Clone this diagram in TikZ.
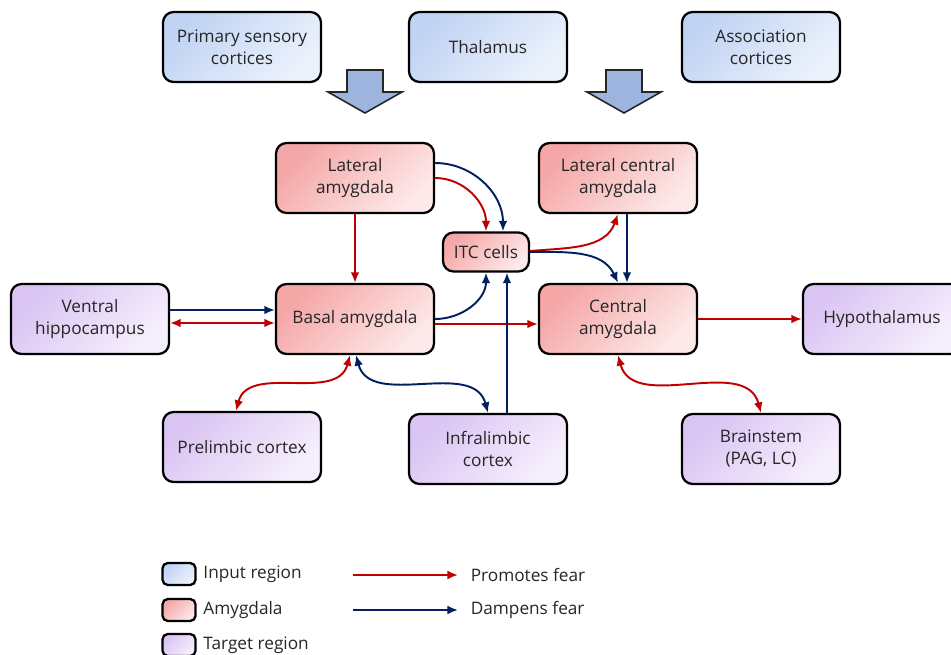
\documentclass[tikz,border=0pt]{standalone}
\usepackage{fontspec}
\setmainfont{Open Sans}
\usetikzlibrary{arrows.meta}

\definecolor{fearred}{RGB}{192,0,0}
\definecolor{calmblue}{RGB}{0,32,96}
\definecolor{inA}{RGB}{192,211,243}
\definecolor{inB}{RGB}{236,242,252}
\definecolor{amyA}{RGB}{245,166,166}
\definecolor{amyB}{RGB}{253,233,233}
\definecolor{tgtA}{RGB}{218,196,243}
\definecolor{tgtB}{RGB}{246,239,253}
\definecolor{bigA}{RGB}{157,180,222}

\begin{document}
\begin{tikzpicture}[x=0.02cm,y=-0.02cm,>={Latex[length=6pt,width=5pt]},line width=1.1pt,
  font=\fontsize{9.8}{12.5}\selectfont,
  box/.style={draw=black,line width=1.3pt,rounded corners=6pt,minimum width=3.16cm,
    minimum height=1.4cm,align=center,text=black!85},
  inbox/.style={box,top color=inA,bottom color=inB,shading angle=45},
  amybox/.style={box,top color=amyA,bottom color=amyB,shading angle=45},
  tgtbox/.style={box,top color=tgtA,bottom color=tgtB,shading angle=45},
  keybox/.style={draw=black,line width=1.3pt,rounded corners=3pt,minimum width=0.66cm,
    minimum height=0.44cm},
  bigarrow/.style={draw=black!85,line width=0.9pt,fill=bigA},
  promo/.style={->,draw=fearred},
  damp/.style={->,draw=calmblue}]
  \useasboundingbox (0,0) rectangle (951,655);

  % 输入区
  \node[inbox] (PSC) at (242,47) {Primary sensory\\cortices};
  \node[inbox] (TH) at (488,47) {Thalamus};
  \node[inbox] (AC) at (761,47) {Association\\cortices};
  \foreach \ax in {365,624}
    \draw[bigarrow] (\ax-18,70) -- (\ax+18,70) -- (\ax+18,92) -- (\ax+37,92)
      -- (\ax,113) -- (\ax-37,92) -- (\ax-18,92) -- cycle;

  % 杏仁核
  \node[amybox] (LA) at (355,178) {Lateral\\amygdala};
  \node[amybox] (LCA) at (618,178) {Lateral central\\amygdala};
  \node[amybox,minimum width=1.72cm,minimum height=0.78cm] (ITC) at (486,252) {ITC cells};
  \node[amybox] (BA) at (355,319) {Basal amygdala};
  \node[amybox] (CA) at (618,319) {Central\\amygdala};

  % 目标区
  \node[tgtbox] (VH) at (90,319) {Ventral\\hippocampus};
  \node[tgtbox] (HY) at (882,319) {Hypothalamus};
  \node[tgtbox] (PL) at (242,447) {Prelimbic cortex};
  \node[tgtbox] (IL) at (488,449) {Infralimbic\\cortex};
  \node[tgtbox] (BS) at (761,449) {Brainstem\\(PAG, LC)};

  % 促进恐惧
  \draw[promo] (LA.south) -- (BA.north);
  \draw[promo] (LA.east) to[out=0,in=90] (ITC.north);
  \draw[promo] ([yshift=0.02cm]ITC.east) to[out=5,in=-110] (LCA.south);
  \draw[promo] ([yshift=-0.1cm]BA.east) -- ([yshift=-0.1cm]CA.west);
  \draw[promo] (CA.east) -- (HY.west);
  \draw[promo,<->] ([yshift=-0.08cm]VH.east) -- ([yshift=-0.08cm]VH.east -| BA.west);
  \draw[promo,<->] ([xshift=-0.1cm]BA.south) to[out=-105,in=75] ([xshift=-0.12cm]PL.north);
  \draw[promo,<->] (CA.south) to[out=-75,in=105] (BS.north);

  % 抑制恐惧
  \draw[damp] ([yshift=0.3cm]LA.east) to[out=0,in=90] ([xshift=0.34cm]ITC.north);
  \draw[damp] (ITC.east) to[out=0,in=115] (CA.north);
  \draw[damp] ([xshift=0.18cm]LCA.south) -- ([xshift=0.18cm]CA.north);
  \draw[damp] (BA.east) to[out=0,in=-90] (ITC.south);
  \draw[damp] ([xshift=0.38cm]IL.north) -- ([xshift=0.38cm]IL.north |- ITC.south);
  \draw[damp] ([yshift=0.18cm]VH.east) -- ([yshift=0.18cm]VH.east -| BA.west);
  \draw[damp,<->] ([xshift=0.02cm]BA.south) to[out=-75,in=105] (IL.north);

  % 图例
  \node[keybox,top color=inA,bottom color=inB,shading angle=45] (kIn) at (179,574) {};
  \node[keybox,top color=amyA,bottom color=amyB,shading angle=45] (kAmy) at (179,610) {};
  \node[keybox,top color=tgtA,bottom color=tgtB,shading angle=45] (kTgt) at (179,645) {};
  \node[anchor=west,text=black!85] (tIn) at (kIn.east) {Input region};
  \node[anchor=west,text=black!85] (tAmy) at (kAmy.east) {Amygdala};
  \node[anchor=west,text=black!85] (tTgt) at (kTgt.east) {Target region};
  \node[anchor=west,text=black!85] (tPro) at (464,575) {Promotes fear};
  \node[anchor=west,text=black!85] (tDam) at (464,610) {Dampens fear};
  \coordinate (sPro) at (353,575);
  \coordinate (sDam) at (353,610);
  \draw[promo] (sPro) -- ([xshift=-0.12cm]tPro.west);
  \draw[damp] (sDam) -- ([xshift=-0.12cm]tDam.west);
\end{tikzpicture}
\end{document}
